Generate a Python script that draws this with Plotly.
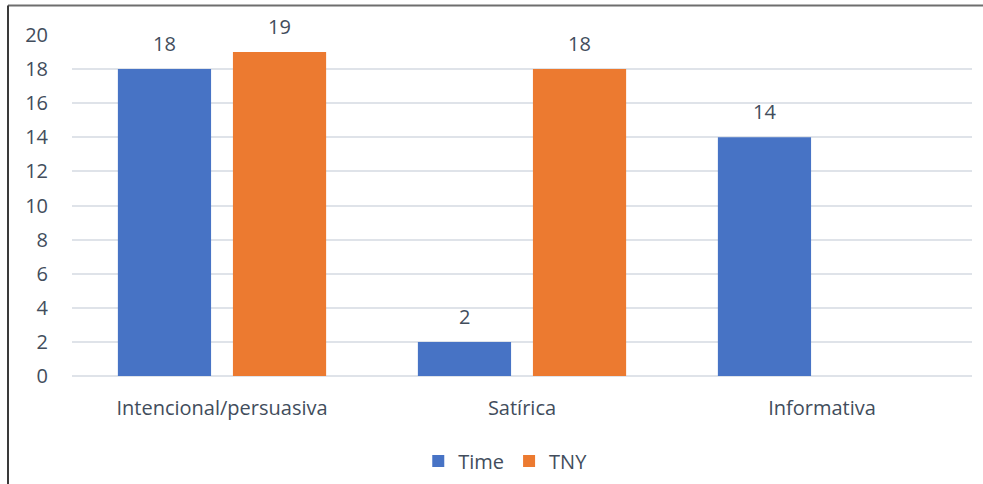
import plotly.graph_objects as go

categories = ["Intencional/persuasiva", "Satírica", "Informativa"]
time_values = [18, 2, 14]
tny_values = [19, 18, None]
series_names = ["Time", "TNY"]
y_ticks = [0, 2, 4, 6, 8, 10, 12, 14, 16, 18, 20]

FONT = "Open Sans"
FS = 20
TXT = "#424d5c"
colors = ["#4773C5", "#EC7A30"]

W, H = 983, 484
ml, mr, mt, mb = 72, 11, 35, 108
plot_w = W - ml - mr
plot_h = H - mt - mb

bargap = 0.233
bargroupgap = 0.19

fig = go.Figure()
series = [time_values, tny_values]
for name, vals, col in zip(series_names, series, colors):
    fig.add_trace(go.Bar(
        name=name, x=categories, y=vals,
        marker=dict(color=col, line=dict(width=0)),
    ))

# data labels as annotations above each bar
cat_px = plot_w / len(categories)
slot_px = cat_px * (1 - bargap) / len(series)
annotations = []
for si, vals in enumerate(series):
    off = (si - (len(series) - 1) / 2) * slot_px
    for c, v in zip(categories, vals):
        if v is None:
            continue
        annotations.append(dict(
            x=c, y=v, xref="x", yref="y", text=str(v), showarrow=False,
            xshift=off, yanchor="bottom", yshift=10,
            font=dict(family=FONT, size=FS, color=TXT),
        ))

# chart border (top and left edges, as in reference)
def px_x(px):
    return (px - ml) / plot_w

def px_y(py):
    return (H - mb - py) / plot_h

shapes = [
    dict(type="line", xref="paper", yref="paper",
         x0=px_x(8), x1=px_x(W + 5), y0=px_y(5.5), y1=px_y(5.5),
         line=dict(color="#6e6e6e", width=2)),
    dict(type="line", xref="paper", yref="paper",
         x0=px_x(8), x1=px_x(8), y0=px_y(5.5), y1=px_y(H + 5),
         line=dict(color="#3a3a3a", width=2)),
]

fig.update_layout(
    width=W, height=H,
    margin=dict(l=ml, r=mr, t=mt, b=mb),
    paper_bgcolor="white", plot_bgcolor="white",
    barmode="group", bargap=bargap, bargroupgap=bargroupgap,
    font=dict(family=FONT, size=FS, color=TXT),
    showlegend=True,
    legend=dict(orientation="h", x=0.514, xanchor="center", xref="container",
                y=1 - 461 / H, yanchor="middle", yref="container",
                font=dict(family=FONT, size=FS, color=TXT),
                itemwidth=30, traceorder="normal"),
    annotations=annotations,
    shapes=shapes,
    xaxis=dict(showline=False, showgrid=False, ticks="", ticklabelstandoff=18,
               tickfont=dict(family=FONT, size=FS, color=TXT)),
    yaxis=dict(range=[0, 20], tickvals=y_ticks, showgrid=True,
               gridcolor="#dfe3e9", gridwidth=2, zeroline=True,
               zerolinecolor="#dfe3e9", zerolinewidth=2, showline=False,
               ticks="", ticklabelstandoff=23,
               tickfont=dict(family=FONT, size=FS, color=TXT)),
)

fig.write_html("out.html")
